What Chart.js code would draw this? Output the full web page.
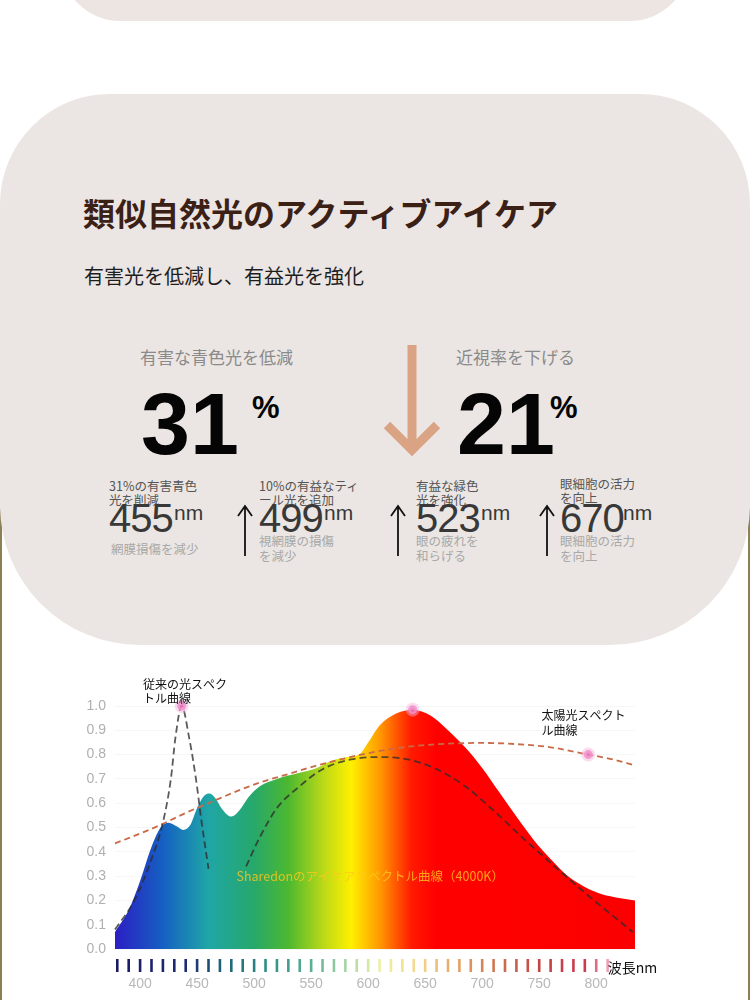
<!DOCTYPE html>
<html lang="ja">
<head>
<meta charset="utf-8">
<title>類似自然光のアクティブアイケア</title>
<script src="https://cdn.jsdelivr.net/npm/chart.js@4.4.1/dist/chart.umd.min.js"></script>
<style>
  html, body { margin: 0; padding: 0; }
  body {
    width: 750px; height: 1000px; overflow: hidden; position: relative; background: #fff;
    font-family: "Noto Sans CJK JP", "Noto Sans", sans-serif;
  }
  .frame { position: absolute; left: 0; top: 480px; width: 746px; height: 600px;
           border-left: 2px solid #8c7e55; border-right: 2px solid #8c7e55; }
  .card-top { position: absolute; left: 60px; top: -100px; width: 630px; height: 121px;
              background: #ede5e2; border-radius: 80px; }
  .card { position: absolute; left: 0; top: 94px; width: 750px; height: 551px;
          background: #ebe6e3; border-radius: 110px 110px 140px 140px; }
  .t { position: absolute; white-space: nowrap; }
  .title { left: 83px; top: 196px; font-size: 32px; line-height: 32px; font-weight: bold; color: #3b2016; }
  .sub { left: 84px; top: 266px; font-size: 20px; line-height: 20px; color: #1e1e1e; }
  .grey { top: 348px; font-size: 17px; line-height: 17px; color: #8a8a8a; }
  .big { top: 380px; font-family: "Liberation Sans", Arial, sans-serif; font-weight: bold;
         font-size: 88px; line-height: 88px; color: #050505; }
  .pct { top: 392px; font-family: "Liberation Sans", Arial, sans-serif; font-weight: bold;
         font-size: 31px; line-height: 31px; color: #050505; }
  .lab { top: 479px; font-size: 12.5px; line-height: 14px; color: #555; }
  .num { top: 498px; font-family: "Liberation Sans", Arial, sans-serif; font-size: 40px;
         line-height: 40px; letter-spacing: -1px; color: #383838; }
  .nm  { top: 502px; font-family: "Liberation Sans", Arial, sans-serif; font-size: 21px;
         line-height: 21px; color: #383838; }
  .note { top: 533px; font-size: 12.5px; line-height: 15px; color: #a8a8a8; }
  svg { position: absolute; overflow: visible; }
  .chart-box { position: absolute; left: 0; top: 660px; width: 750px; height: 340px; }
</style>
</head>
<body>
<div class="frame"></div>
<div class="card-top"></div>
<div class="card"></div>

<div class="t title">類似自然光のアクティブアイケア</div>
<div class="t sub">有害光を低減し、有益光を強化</div>

<div class="t grey" style="left:140px">有害な青色光を低減</div>
<div class="t grey" style="left:456px">近視率を下げる</div>

<div class="t big" style="left:141px">31</div>
<div class="t pct" style="left:252px">%</div>
<div class="t big" style="left:457px">21</div>
<div class="t pct" style="left:550px">%</div>

<svg style="left:380px; top:340px" width="64" height="120">
  <path d="M32 5 L32 110 M7 85 L32 110 L57 85" fill="none" stroke="#d9a384" stroke-width="9"/>
</svg>

<div class="t lab" style="left:109px">31%の有害青色<br>光を削減</div>
<div class="t num" style="left:109px">455</div>
<div class="t nm" style="left:174px">nm</div>
<div class="t note" style="left:111px; top:541px">網膜損傷を減少</div>

<svg style="left:235px; top:500px" width="20" height="60">
  <path d="M10 7 L10 56 M3 16 L10 6 L17 16" fill="none" stroke="#111" stroke-width="1.8"/>
</svg>
<div class="t lab" style="left:259px">10%の有益なティ<br>ール光を追加</div>
<div class="t num" style="left:259px">499</div>
<div class="t nm" style="left:324px">nm</div>
<div class="t note" style="left:259px">視網膜の損傷<br>を減少</div>

<svg style="left:388px; top:500px" width="20" height="60">
  <path d="M10 7 L10 56 M3 16 L10 6 L17 16" fill="none" stroke="#111" stroke-width="1.8"/>
</svg>
<div class="t lab" style="left:416px">有益な緑色<br>光を強化</div>
<div class="t num" style="left:416px">523</div>
<div class="t nm" style="left:481px">nm</div>
<div class="t note" style="left:416px">眼の疲れを<br>和らげる</div>

<svg style="left:537px; top:500px" width="20" height="60">
  <path d="M10 7 L10 56 M3 16 L10 6 L17 16" fill="none" stroke="#111" stroke-width="1.8"/>
</svg>
<div class="t lab" style="left:560px; top:477px">眼細胞の活力<br>を向上</div>
<div class="t num" style="left:560px">670</div>
<div class="t nm" style="left:623px">nm</div>
<div class="t note" style="left:560px">眼細胞の活力<br>を向上</div>

<div class="chart-box"><canvas id="spectrumChart"></canvas></div>

<script>
// Sharedon アイケアスペクトル（4000K）
const eyeCareNm  = [378, 390, 400, 410, 418, 425, 432, 438, 444, 450, 456, 461, 466, 472, 480, 487, 495, 505, 520, 540, 555, 568, 582, 592, 600, 610, 625, 639, 655, 670, 685, 700, 715, 730, 745, 760, 775, 790, 805, 820, 834];
const eyeCareVal = [0.07, 0.16, 0.28, 0.42, 0.50, 0.52, 0.505, 0.49, 0.51, 0.58, 0.63, 0.64, 0.62, 0.575, 0.545, 0.57, 0.625, 0.67, 0.70, 0.725, 0.745, 0.775, 0.79, 0.80, 0.85, 0.92, 0.97, 0.985, 0.96, 0.90, 0.83, 0.745, 0.645, 0.545, 0.45, 0.37, 0.30, 0.255, 0.225, 0.21, 0.20];

// 太陽光スペクトル
const sunNm  = [378, 400, 420, 440, 460, 480, 505, 530, 555, 580, 610, 640, 670, 700, 730, 760, 793, 815, 834];
const sunVal = [0.435, 0.475, 0.515, 0.56, 0.60, 0.64, 0.685, 0.72, 0.755, 0.785, 0.815, 0.835, 0.845, 0.848, 0.843, 0.83, 0.80, 0.78, 0.755];

// 従来の光スペクトル（null = 途切れ）
const conventionalNm  = [378, 395, 410, 420, 427, 431, 436.5, 443, 449, 454, 460, 476, 493, 505, 520, 540, 560, 585, 610, 635, 660, 685, 710, 735, 766, 793, 832];
const conventionalVal = [0.08, 0.2, 0.37, 0.52, 0.70, 0.87, 1.0, 0.87, 0.70, 0.52, 0.33, null, 0.34, 0.46, 0.58, 0.67, 0.74, 0.78, 0.79, 0.78, 0.74, 0.67, 0.57, 0.46, 0.33, 0.22, 0.07];

// ピンクのマーカー
const markerNm  = [436.5, 639, 793];
const markerVal = [1.0, 0.985, 0.80];

const xTicks = [400, 450, 500, 550, 600, 650, 700, 750, 800];
const yTicks = [0, 0.1, 0.2, 0.3, 0.4, 0.5, 0.6, 0.7, 0.8, 0.9, 1.0];
const dashNm = [380, 390, 400, 410, 420, 430, 440, 450, 460, 470, 480, 490, 500, 510, 520, 530, 540, 550, 560, 570, 580, 590, 600, 610, 620, 630, 640, 650, 660, 670, 680, 690, 700, 710, 720, 730, 740, 750, 760, 770, 780, 790, 800, 810];

// 塗りのグラデーション（波長, 色）
const fillStops = [
    [378, '#2b1ec4'], [420, '#1560c2'], [460, '#1fa6a6'], [500, '#27a86a'],
    [530, '#4cb830'], [560, '#b8d818'], [585, '#fff000'], [610, '#ff9a00'],
    [638, '#ff1a00'], [660, '#ff0000'], [834, '#fb0000']
];
// 目盛り線の色
const dashStops = [
    [380, '#1a1a62'], [440, '#1c2c74'], [470, '#1f5f78'], [510, '#2c8c86'],
    [550, '#5aae94'], [580, '#a6d4a4'], [610, '#ecf0a4'], [645, '#f2d68c'],
    [680, '#e2a064'], [715, '#cc7050'], [750, '#c24444'], [790, '#c83c4c'], [810, '#f0a0b4']
];

const toPoints = (xs, ys) => xs.map((x, i) => ({ x, y: ys[i] }));

const hexRgb = h => [1, 3, 5].map(i => parseInt(h.substr(i, 2), 16));
const dashColor = nm => {
    for (let i = 0; i < dashStops.length - 1; i++) {
        const [a, ca] = dashStops[i];
        const [b, cb] = dashStops[i + 1];
        if (nm <= b) {
            const t = Math.max(0, (nm - a) / (b - a));
            const A = hexRgb(ca), B = hexRgb(cb);
            return `rgb(${A.map((v, k) => Math.round(v + (B[k] - v) * t)).join(',')})`;
        }
    }
    return dashStops[dashStops.length - 1][1];
};

const rainbowFill = (c) => {
    const chart = c.chart;
    const area = chart.chartArea;
    if (!area) return '#ff0000';
    const xs = chart.scales.x;
    const g = chart.ctx.createLinearGradient(area.left, 0, area.right, 0);
    fillStops.forEach(([nm, col]) => {
        const off = (xs.getPixelForValue(nm) - area.left) / (area.right - area.left);
        g.addColorStop(Math.min(1, Math.max(0, off)), col);
    });
    return g;
};

// 目盛り線・注記テキスト
const overlay = {
    id: 'overlay',
    afterDatasetsDraw(chart) {
        const { ctx, chartArea, scales: { x, y } } = chart;
        ctx.save();
        ctx.lineWidth = 2.6;
        dashNm.forEach(nm => {
            const px = x.getPixelForValue(nm);
            ctx.strokeStyle = dashColor(nm);
            ctx.beginPath();
            ctx.moveTo(px, chartArea.bottom + 10);
            ctx.lineTo(px, chartArea.bottom + 23);
            ctx.stroke();
        });

        ctx.textBaseline = 'middle';
        ctx.textAlign = 'left';
        ctx.font = '12px "Noto Sans CJK JP"';
        ctx.fillStyle = '#111';
        ctx.fillText('従来の光スペク', x.getPixelForValue(402.5), y.getPixelForValue(1.09));
        ctx.fillText('トル曲線', x.getPixelForValue(402.5), y.getPixelForValue(1.03));
        ctx.fillText('太陽光スペクト', x.getPixelForValue(752), y.getPixelForValue(0.963));
        ctx.fillText('ル曲線', x.getPixelForValue(752), y.getPixelForValue(0.90));

        ctx.font = '12.5px "Noto Sans CJK JP"';
        ctx.fillStyle = 'rgba(255, 200, 30, 0.8)';
        ctx.fillText('Sharedonのアイケアスペクトル曲線（4000K）', x.getPixelForValue(484.5), y.getPixelForValue(0.30));

        ctx.font = '14px "Noto Sans CJK JP"';
        ctx.fillStyle = '#111';
        ctx.fillText('波長nm', x.getPixelForValue(810), chartArea.bottom + 19);
        ctx.restore();
    }
};

Chart.defaults.font.family = '"Liberation Sans", Arial, sans-serif';

new Chart(document.getElementById('spectrumChart'), {
    type: 'line',
    data: {
        datasets: [
            {
                label: 'マーカー',
                data: toPoints(markerNm, markerVal),
                showLine: false,
                pointRadius: 4.5,
                pointBackgroundColor: 'rgba(236, 120, 190, 0.85)',
                pointBorderColor: 'rgba(246, 175, 220, 0.45)',
                pointBorderWidth: 5,
                clip: false,
                order: 0
            },
            {
                label: '従来の光スペクトル曲線',
                data: toPoints(conventionalNm, conventionalVal),
                borderColor: 'rgba(45, 45, 45, 0.78)',
                borderWidth: 1.8,
                borderDash: [7, 4],
                pointRadius: 0,
                fill: false,
                spanGaps: false,
                cubicInterpolationMode: 'monotone',
                clip: false,
                order: 1
            },
            {
                label: '太陽光スペクトル曲線',
                data: toPoints(sunNm, sunVal),
                borderColor: '#c96a48',
                borderWidth: 1.8,
                borderDash: [6, 4],
                pointRadius: 0,
                fill: false,
                cubicInterpolationMode: 'monotone',
                clip: false,
                order: 2
            },
            {
                label: 'Sharedonのアイケアスペクトル曲線（4000K）',
                data: toPoints(eyeCareNm, eyeCareVal),
                borderWidth: 0,
                pointRadius: 0,
                fill: 'origin',
                backgroundColor: rainbowFill,
                cubicInterpolationMode: 'monotone',
                order: 3
            }
        ]
    },
    options: {
        responsive: true,
        maintainAspectRatio: false,
        animation: false,
        layout: { padding: { left: 80, right: 115, top: 46, bottom: 0 } },
        plugins: { legend: { display: false }, tooltip: { enabled: false } },
        scales: {
            x: {
                type: 'linear',
                min: 378,
                max: 834,
                afterBuildTicks: s => { s.ticks = xTicks.map(v => ({ value: v })); },
                afterFit: s => { s.height = 51; },
                grid: { display: false, drawTicks: false },
                border: { display: false },
                ticks: { color: '#b8b8b8', font: { size: 14 }, padding: 27, maxRotation: 0, autoSkip: false }
            },
            y: {
                min: 0,
                max: 1.0,
                afterBuildTicks: s => { s.ticks = yTicks.map(v => ({ value: v })); },
                afterFit: s => { s.width = 35; },
                grid: { color: 'rgba(0, 0, 0, 0.035)', drawTicks: false },
                border: { display: false },
                ticks: { color: '#b0b0b0', font: { size: 14 }, padding: 9, callback: v => v.toFixed(1) }
            }
        }
    },
    plugins: [overlay]
});
</script>
</body>
</html>
